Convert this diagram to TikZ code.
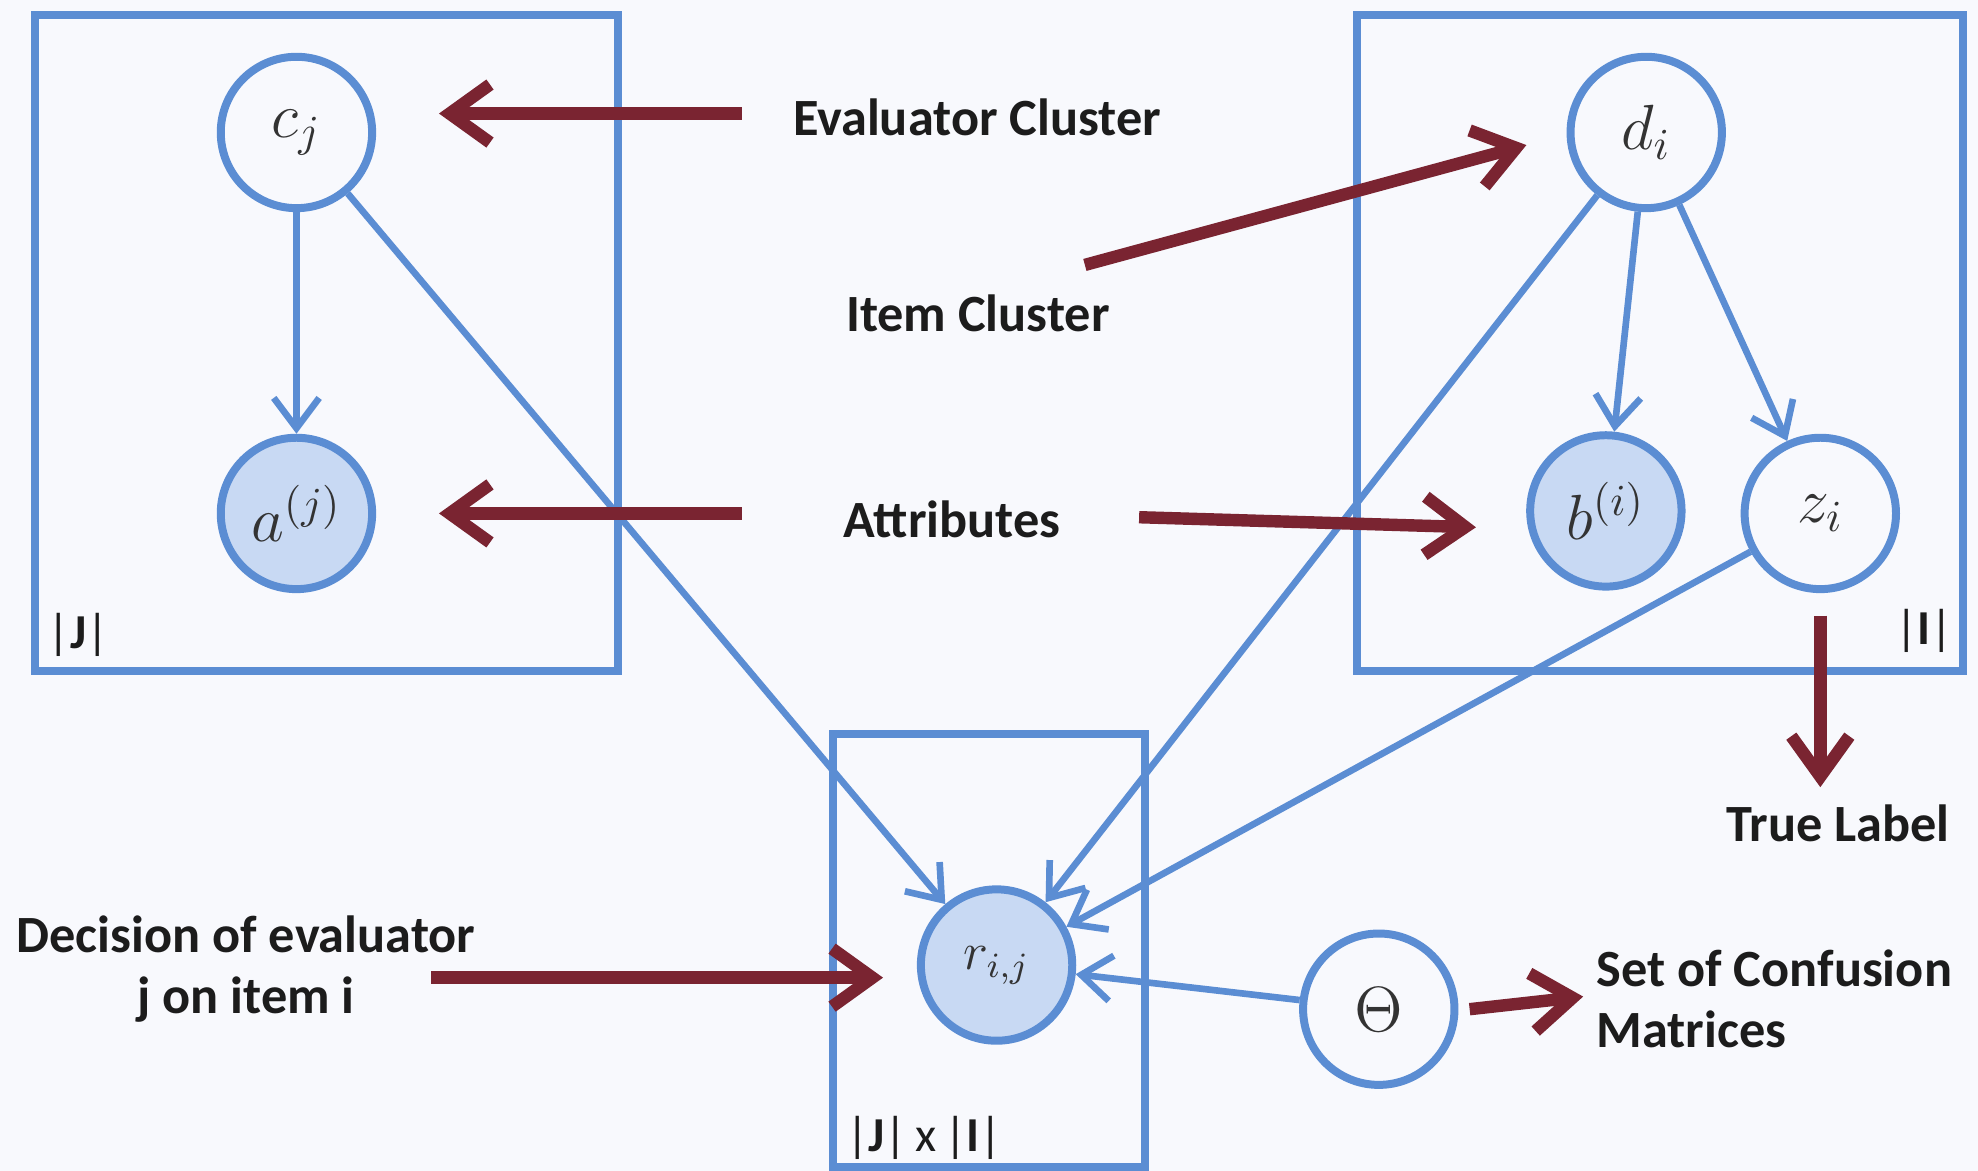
\documentclass[tikz,border=0pt]{standalone}
\usepackage{fontspec}
\setmainfont{Carlito}
\usetikzlibrary{arrows.meta,positioning}
\definecolor{plateBlue}{HTML}{5B8DD3}
\definecolor{obsFill}{HTML}{C8D9F3}
\definecolor{noteRed}{HTML}{7A2431}
\definecolor{bgPage}{HTML}{F8F9FD}
\definecolor{inkDark}{HTML}{1C1C1C}

\begin{document}
\begin{tikzpicture}[
    x=0.1mm, y=-0.1mm,
    varnode/.style={
      circle, draw=plateBlue, line width=1.8pt, fill=bgPage, text=black!80,
      minimum size=12mm, inner sep=0pt, font=\fontsize{14}{16}\selectfont
    },
    obsnode/.style={varnode, fill=obsFill},
    platebox/.style={draw=plateBlue, line width=1.8pt},
    platetag/.style={inner sep=0pt, text=inkDark, font=\fontsize{11}{13}\selectfont},
    notetext/.style={inner sep=0pt, text=inkDark, font=\fontsize{11.8}{13.8}\selectfont\bfseries},
    depedge/.style={-{Straight Barb[length=2.4mm,width=3.6mm]}, draw=plateBlue, line width=1.5pt},
    notearrow/.style={-{Straight Barb[length=3.2mm,width=4.6mm]}, draw=noteRed, line width=2.8pt}
  ]
  \fill[bgPage] (0,0) rectangle (1568,928);
  \useasboundingbox (0,0) rectangle (1568,928);

  \draw[platebox] (28,12) rectangle (490,532);
  \draw[platebox] (1076,12) rectangle (1556,532);
  \draw[platebox] (660,582) rectangle (908,925);
  \node[platetag, anchor=west] (tagJ) at (37,503) {|\textbf{J}|};
  \node[platetag, anchor=east] (tagI) at (1549,500) {|\textbf{I}|};
  \node[platetag, anchor=west] (tagJI) at (670,902) {|\textbf{J}|\,x\,|\textbf{I}|};

  \node[varnode] (c) at (235,105) {$c_j$};
  \node[obsnode] (a) at (235,407) {$a^{(j)}$};
  \node[varnode] (d) at (1305,105) {$d_i$};
  \node[obsnode] (b) at (1273,405) {$b^{(i)}$};
  \node[varnode] (z) at (1443,407) {$z_i$};
  \node[obsnode, font=\fontsize{12}{14}\selectfont] (r) at (790,765) {$r_{i,j}$};
  \node[varnode] (theta) at (1093,800) {$\Theta$};

  \draw[depedge] (c) -- (a);
  \draw[depedge] (d) -- (b);
  \draw[depedge] (d) -- (z);
  \draw[depedge] (c) -- (r);
  \draw[depedge] (d) -- (r);
  \draw[depedge] (z) -- (r);
  \draw[depedge] (theta) -- (r);

  \node[notetext, anchor=west] (evalc) at (628,93) {Evaluator Cluster};
  \node[notetext, anchor=west] (itemc) at (670,248) {Item Cluster};
  \node[notetext, anchor=west] (attr) at (668,412) {Attributes};
  \node[notetext] (truelbl) at (1457,653) {True Label};
  \node[notetext, align=center] (decision) at (195,768) {Decision of evaluator\\j on item i};
  \node[notetext, align=left, anchor=west] (confmat) at (1265,792) {Set of Confusion\\Matrices};

  \coordinate (evalfrom) at (588,90);
  \coordinate (evaltip) at (348,90);
  \coordinate (itemfrom) at (860,210);
  \coordinate (itemtip) at (1210,115);
  \coordinate (attrfromL) at (588,407);
  \coordinate (attrtipL) at (348,407);
  \coordinate (attrfromR) at (903,410);
  \coordinate (attrtipR) at (1170,418);
  \coordinate (truefrom) at (1443,488);
  \coordinate (truetip) at (1443,624);
  \coordinate (decfrom) at (342,775);
  \coordinate (dectip) at (700,775);
  \coordinate (thetafrom) at (1165,800);
  \coordinate (thetatip) at (1255,790);

  \draw[notearrow] (evalfrom) -- (evaltip);
  \draw[notearrow] (itemfrom) -- (itemtip);
  \draw[notearrow] (attrfromL) -- (attrtipL);
  \draw[notearrow] (attrfromR) -- (attrtipR);
  \draw[notearrow] (truefrom) -- (truetip);
  \draw[notearrow] (decfrom) -- (dectip);
  \draw[notearrow] (thetafrom) -- (thetatip);
\end{tikzpicture}
\end{document}
